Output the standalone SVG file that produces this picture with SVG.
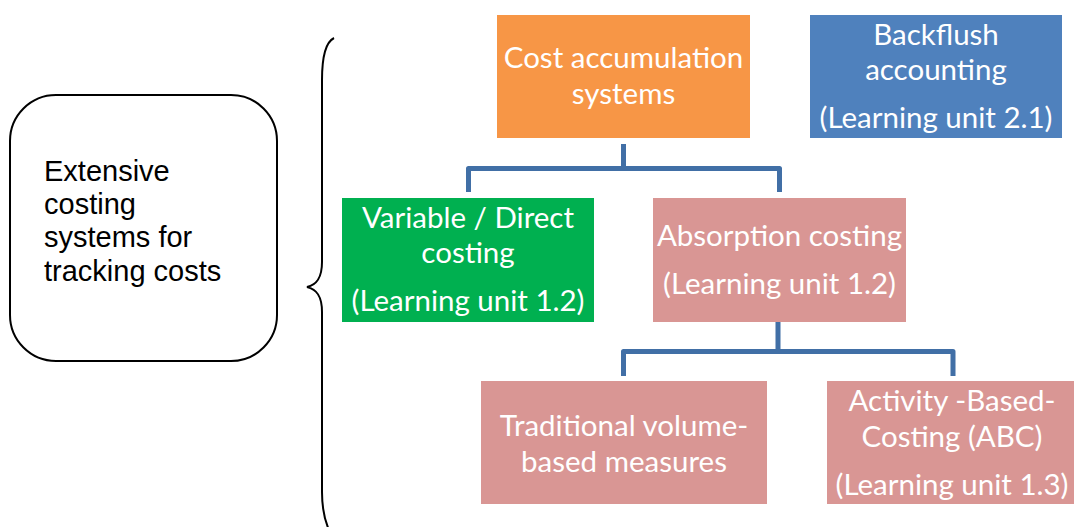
<svg xmlns="http://www.w3.org/2000/svg" width="1074" height="527" viewBox="0 0 1074 527">
  <style>
    .box { stroke: none; }
    .lbl { font-family: Lato, "Open Sans", sans-serif; font-size: 29.5px; fill: #ffffff; text-anchor: middle; }
    .side { font-family: "Liberation Sans", Arial, sans-serif; font-size: 29px; fill: #000000; }
    .conn { fill: none; stroke: #416FA6; stroke-width: 5; stroke-linejoin: round; }
    .brace { fill: none; stroke: #000000; stroke-width: 2; }
  </style>
  <rect width="1074" height="527" fill="#ffffff"/>

  <!-- left summary box and brace -->
  <g id="summary">
    <rect x="10" y="95" width="267" height="266" rx="46" ry="46" fill="#ffffff" stroke="#000000" stroke-width="2"/>
    <text class="side" x="44" y="181">Extensive</text>
    <text class="side" x="44" y="214">costing</text>
    <text class="side" x="44" y="247">systems for</text>
    <text class="side" x="44" y="281">tracking costs</text>
  </g>
  <g id="brace">
    <path class="brace" d="M334,38 C326,42 322,55 322,80 L322,262 C322,279 316,285 307,287 C316,289 322,295 322,312 L322,492 C322,510 325,521 329,530"/>
  </g>

  <!-- connectors -->
  <g id="connectors">
    <path class="conn" d="M623.5,144 L623.5,168.5 M468.5,192 L468.5,168.5 L779.5,168.5 L779.5,192"/>
    <path class="conn" d="M778,322 L778,351.5 M623.5,376 L623.5,351.5 L953,351.5 L953,376"/>
  </g>

  <g id="cost-accumulation">
    <rect class="box" x="497" y="15" width="253" height="123" fill="#F79646"/>
    <text class="lbl" x="623.5" y="68">Cost accumulation</text>
    <text class="lbl" x="623.5" y="104">systems</text>
  </g>

  <g id="backflush">
    <rect class="box" x="810" y="15" width="252" height="123" fill="#4F81BD"/>
    <text class="lbl" x="936" y="45">Backflush</text>
    <text class="lbl" x="936" y="80">accounting</text>
    <text class="lbl" x="936" y="128">(Learning unit 2.1)</text>
  </g>

  <g id="variable-direct">
    <rect class="box" x="342" y="198" width="252" height="124" fill="#00B050"/>
    <text class="lbl" x="468" y="228">Variable / Direct</text>
    <text class="lbl" x="468" y="263">costing</text>
    <text class="lbl" x="468" y="311">(Learning unit 1.2)</text>
  </g>

  <g id="absorption">
    <rect class="box" x="653" y="198" width="253" height="124" fill="#D99694"/>
    <text class="lbl" x="779.5" y="246">Absorption costing</text>
    <text class="lbl" x="779.5" y="294">(Learning unit 1.2)</text>
  </g>

  <g id="traditional">
    <rect class="box" x="481" y="381" width="286" height="123" fill="#D99694"/>
    <text class="lbl" x="624" y="436">Traditional volume-</text>
    <text class="lbl" x="624" y="472">based measures</text>
  </g>

  <g id="abc">
    <rect class="box" x="827" y="381" width="247" height="123" fill="#D99694"/>
    <text class="lbl" x="952" y="411">Activity -Based-</text>
    <text class="lbl" x="952" y="447">Costing (ABC)</text>
    <text class="lbl" x="952" y="495">(Learning unit 1.3)</text>
  </g>
</svg>
